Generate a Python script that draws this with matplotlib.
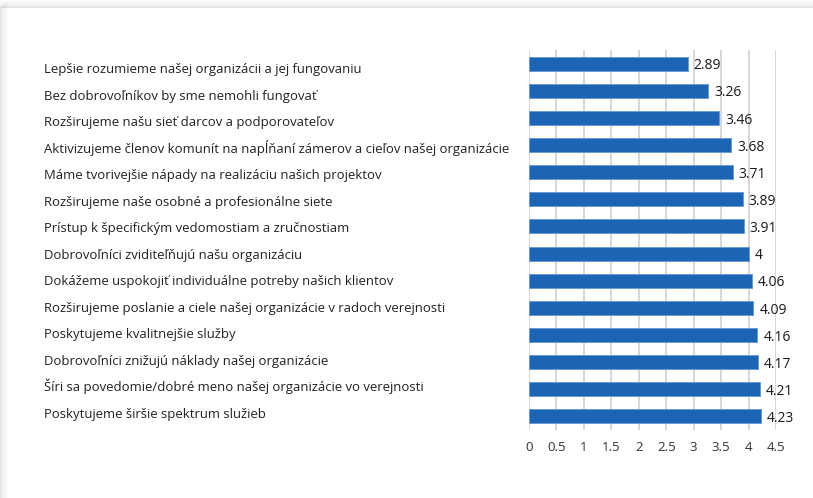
import matplotlib
matplotlib.use("Agg")
import matplotlib.pyplot as plt
from matplotlib.patches import Rectangle

categories = [
    "Lepšie rozumieme našej organizácii a jej fungovaniu",
    "Bez dobrovoľníkov by sme nemohli fungovať",
    "Rozširujeme našu sieť darcov a podporovateľov",
    "Aktivizujeme členov komunít na napĺňaní zámerov a cieľov našej organizácie",
    "Máme tvorivejšie nápady na realizáciu našich projektov",
    "Rozširujeme naše osobné a profesionálne siete",
    "Prístup k špecifickým vedomostiam a zručnostiam",
    "Dobrovoľníci zviditeľňujú našu organizáciu",
    "Dokážeme uspokojiť individuálne potreby našich klientov",
    "Rozširujeme poslanie a ciele našej organizácie v radoch verejnosti",
    "Poskytujeme kvalitnejšie služby",
    "Dobrovoľníci znižujú náklady našej organizácie",
    "Šíri sa povedomie/dobré meno našej organizácie vo verejnosti",
    "Poskytujeme širšie spektrum služieb",
]
values = [2.89, 3.26, 3.46, 3.68, 3.71, 3.89, 3.91, 4, 4.06, 4.09, 4.16, 4.17, 4.21, 4.23]
value_labels = ["2.89", "3.26", "3.46", "3.68", "3.71", "3.89", "3.91", "4", "4.06", "4.09", "4.16", "4.17", "4.21", "4.23"]
xticks = [0, 0.5, 1, 1.5, 2, 2.5, 3, 3.5, 4, 4.5]
xtick_labels = ["0", "0.5", "1", "1.5", "2", "2.5", "3", "3.5", "4", "4.5"]

W, H = 813, 498
fig = plt.figure(figsize=(W / 100, H / 100), dpi=100)
fig.patch.set_facecolor("white")

# card shadow on top and left
for i, a in enumerate([0.10, 0.08, 0.065, 0.05, 0.04, 0.03, 0.02, 0.012]):
    fig.patches.append(Rectangle((0, (H - 8 + i) / H), 1, 1 / H, transform=fig.transFigure,
                                 facecolor="black", alpha=a, edgecolor="none"))
    fig.patches.append(Rectangle((i / W, 0), 1 / W, (H - 8 + i) / H, transform=fig.transFigure,
                                 facecolor="black", alpha=a, edgecolor="none"))

n = len(values)
ax = fig.add_axes([529 / W, 1 - 430 / H, 247 / W, 380 / H])
ax.set_facecolor("none")
y = list(range(n))
ax.barh(y, values, height=0.52, color="#1c64b4", edgecolor="#6a9bd6", linewidth=0.7, zorder=3)
ax.set_xlim(0, 4.5)
ax.set_ylim(n - 0.5, -0.5)
ax.set_xticks(xticks)
ax.set_xticklabels(xtick_labels, fontsize=9.5, color="#333333", family="Open Sans")
ax.tick_params(axis="x", length=0, pad=8)
ax.set_yticks([])
for s in ax.spines.values():
    s.set_visible(False)
ax.grid(axis="x", color="#d0d0d0", linewidth=1.2, zorder=0)

for yi, v, lab in zip(y, values, value_labels):
    ax.text(v + 0.11, yi + 0.08, lab, va="center", ha="left", fontsize=10, color="#1a1a1a",
            family="Open Sans", zorder=4)

# category labels on their own invisible axes (row baselines 73 .. 418 px)
step = (418 - 73) / (n - 1)
top = 73 - step / 2
bot = 418 + step / 2
lax = fig.add_axes([44 / W, 1 - bot / H, 460 / W, (bot - top) / H])
lax.axis("off")
lax.set_xlim(0, 1)
lax.set_ylim(n - 0.5, -0.5)
for yi, cat in zip(y, categories):
    lax.text(0, yi, cat, va="baseline", ha="left", fontsize=9.45,
             color="#222222", family="Open Sans", clip_on=False)

fig.savefig("out.png", dpi=100, facecolor="white")
